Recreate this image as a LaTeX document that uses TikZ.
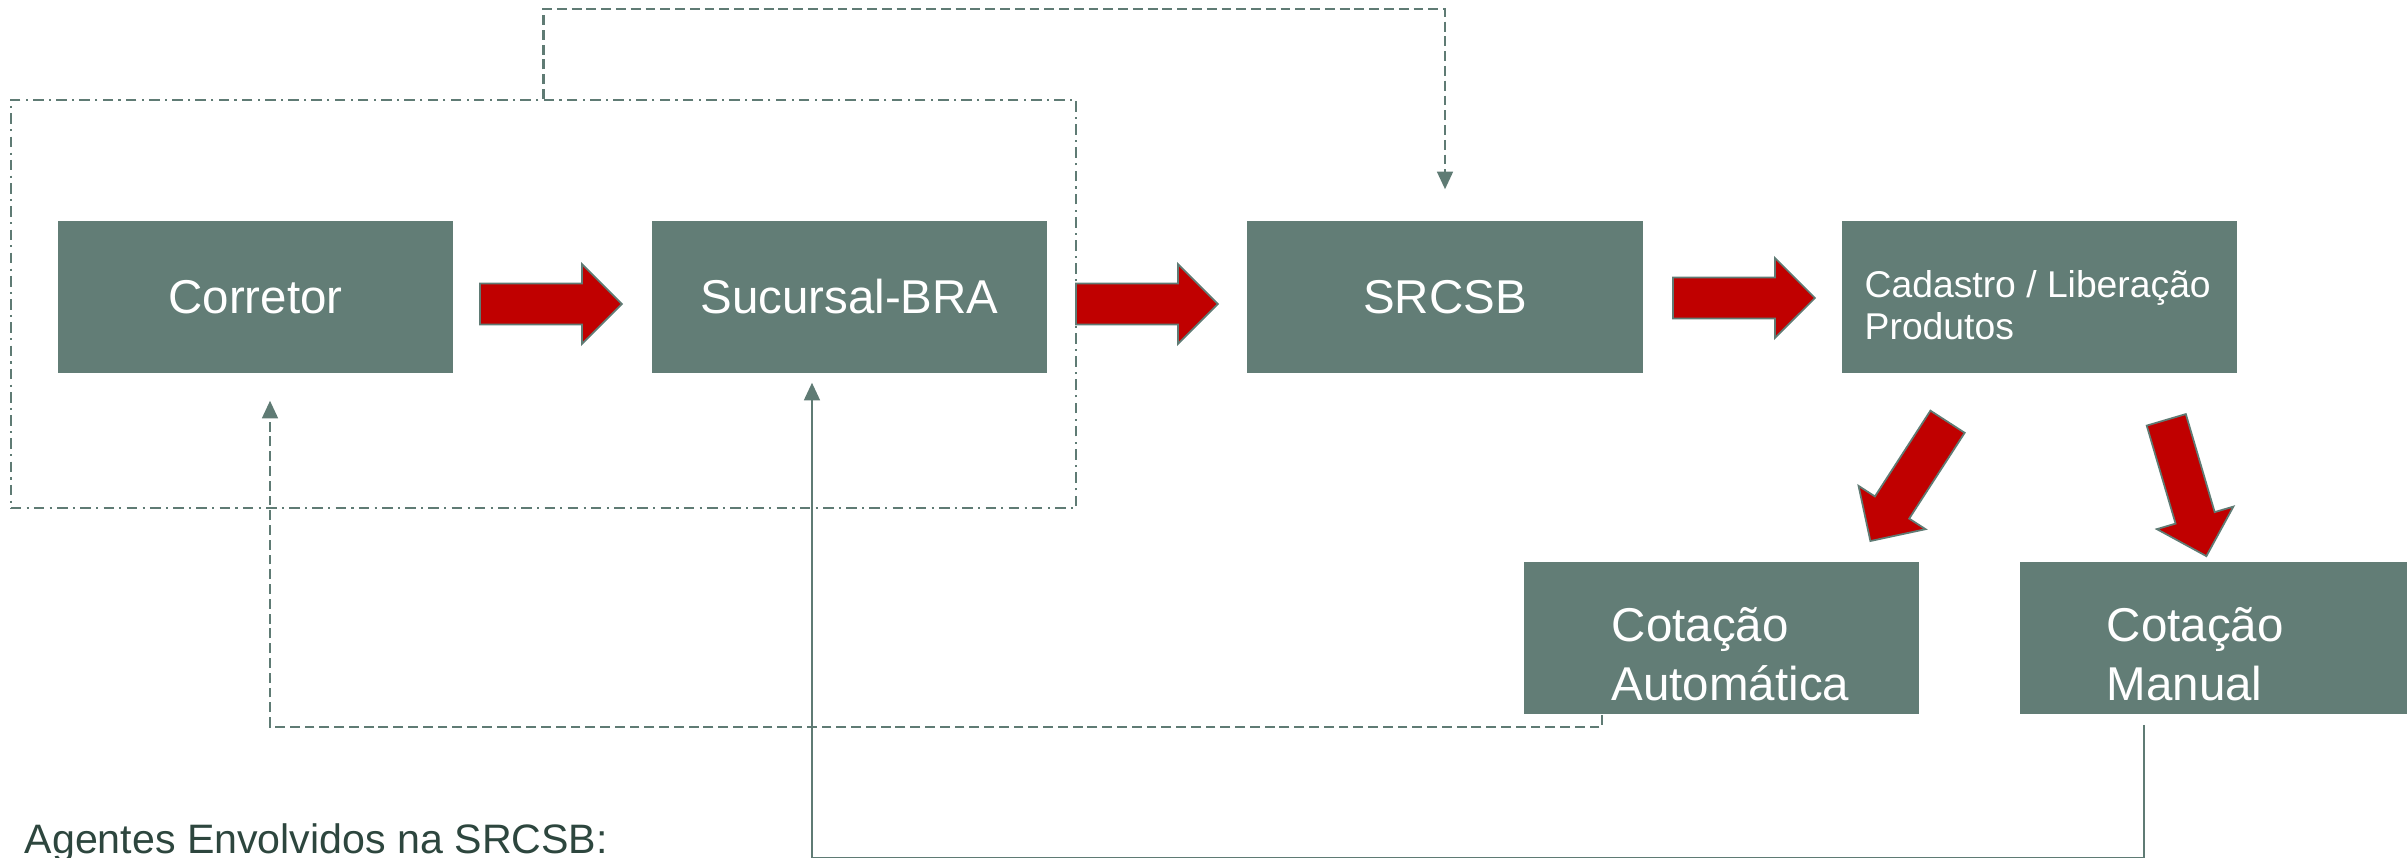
\documentclass[tikz,border=0pt]{standalone}
\usepackage{fontspec}
\setmainfont{Liberation Sans}
\usetikzlibrary{shapes.arrows,arrows.meta}
\definecolor{boxcol}{HTML}{627D76}
\definecolor{linecol}{HTML}{5F7B74}
\definecolor{redcol}{HTML}{C00000}
\definecolor{darkcol}{HTML}{2D463E}
\tikzset{
  caixa/.style={rectangle, fill=boxcol, minimum width=3.95cm, minimum height=1.52cm,
    inner sep=0pt, text=white, font=\fontsize{13.5}{16}\selectfont
  },
  caixatexto/.style={anchor=base west, inner sep=0pt, align=left, text=white,
    font=\fontsize{13.5}{16.5}\selectfont
  },
  seta/.style={single arrow, draw=linecol, line width=0.5pt, fill=redcol,
    minimum height=1.42cm, inner xsep=0pt, inner ysep=0.195cm, text height=0pt,
    text depth=0pt, single arrow head extend=0.195cm, anchor=tail
  },
  fluxo/.style={draw=linecol, line width=0.6pt, -{Triangle[width=4.5pt,length=5pt]}},
  tracejado/.style={dash pattern=on 2.8pt off 1.4pt},
  grupo/.style={draw=linecol, line width=0.6pt, dash pattern=on 3pt off 1.5pt on 0.6pt off 1.5pt,
    minimum width=10.65cm, minimum height=4.08cm, inner sep=0pt
  }
}

\begin{document}
\begin{tikzpicture}[x=0.01cm, y=-0.01cm]
   \useasboundingbox (0,0) rectangle (2407,858);

   \node[grupo] (grupo) at (543.5,304) {};

   \node[caixa] (corretor) at (255.5,297) {Corretor};
   \node[caixa] (sucursal) at (849.5,297) {Sucursal-BRA};
   \node[caixa] (srcsb) at (1445,297) {SRCSB};
   \node[caixa] (cadastro) at (2039.5,297) {};
   \node[caixa] (auto) at (1721.5,638) {};
   \node[caixa] (manual) at (2217.5,638) {};

   % base = ultima linha
   \node[caixatexto, font=\fontsize{10.6}{12.2}\selectfont] (cadtxt) at (1864,340) {Cadastro / Liberação\\Produtos};
   \node[caixatexto] (autotxt) at (1611,700) {Cotação\\Automática};
   \node[caixatexto] (mantxt) at (2106,700) {Cotação\\Manual};

   % setas vermelhas
   \node[seta] (s1) at (479,304) {};
   \node[seta] (s2) at (1075,304) {};
   \node[seta] (s3) at (1672,298) {};
   \node[seta, rotate=237.1] (s4) at (1948,421) {};
   \node[seta, rotate=-73.6] (s5) at (2166,419) {};

   % retornos
   \draw[fluxo, tracejado, shorten >=0.31cm] (grupo.north) -- ++(0,-90) -| (srcsb.north);
   \draw[fluxo, tracejado, shorten >=0.27cm] ([xshift=0.79cm]auto.south west) -- ++(0,12) -| ([xshift=0.145cm]corretor.south);
   \draw[fluxo, shorten <=0.1cm, shorten >=0.09cm] ([xshift=1.25cm]manual.south west) -- ++(0,143) -| ([xshift=-0.375cm]sucursal.south);

   \node[anchor=base west, inner sep=0pt, text=darkcol, font=\fontsize{11.7}{13}\selectfont] (agentes) at (24,853) {Agentes Envolvidos na SRCSB:};
\end{tikzpicture}
\end{document}
